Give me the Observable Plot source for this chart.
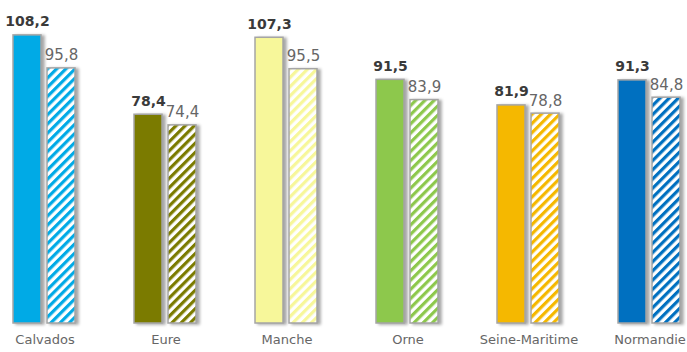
<!DOCTYPE html>
<html><head><meta charset="utf-8">
<script src="https://cdn.jsdelivr.net/npm/d3@7"></script>
<script src="https://cdn.jsdelivr.net/npm/@observablehq/plot@0.6"></script>
<style>body{margin:0;background:#fff}</style>
</head><body><div id="chart"></div>
<script>
const regions = ["Calvados", "Eure", "Manche", "Orne", "Seine-Maritime", "Normandie"];
const series = ["plein", "hachuré"];
const solidValues = [108.2, 78.4, 107.3, 91.5, 81.9, 91.3];
const hatchValues = [95.8, 74.4, 95.5, 83.9, 78.8, 84.8];
const regionColors = ["#00aae6", "#7b7b00", "#f7f79a", "#8dc84c", "#f5b800", "#0070c0"];

const rows = [];
regions.forEach((r, i) => {
  rows.push({region: r, serie: series[0], value: solidValues[i], fill: regionColors[i]});
  rows.push({region: r, serie: series[1], value: hatchValues[i], fill: `url(#hatch-${i})`});
});
const fmt = v => v.toFixed(1).replace(".", ",");

const chart = Plot.plot({
  width: 687, height: 352,
  marginTop: 0, marginBottom: 29, marginLeft: 0, marginRight: 0,
  style: {fontFamily: "DejaVu Sans", background: "#fff"},
  fx: {domain: regions, range: [11, 683], paddingInner: 0.483, paddingOuter: 0, label: null},
  x: {domain: series, paddingInner: 0.174, paddingOuter: 0, axis: null},
  y: {domain: [0, 121.3], axis: null},
  color: {type: "identity"},
  marks: [
    Plot.barY(rows, {fx: "region", x: "serie", y: "value", fill: "fill", stroke: "#a5a5a5", strokeWidth: 1.5}),
    Plot.text(rows.filter(d => d.serie === series[0]), {fx: "region", x: "serie", y: "value", text: d => fmt(d.value),
      dy: -9, lineAnchor: "bottom", fontWeight: "bold", fontSize: 14, fill: "#3a3a3a"}),
    Plot.text(rows.filter(d => d.serie === series[1]), {fx: "region", x: "serie", y: "value", text: d => fmt(d.value),
      dy: -8, lineAnchor: "bottom", fontSize: 15, fill: "#666"}),
    Plot.axisFx({anchor: "bottom", tickSize: 0, tickPadding: 11, fontSize: 13, color: "#666", label: null})
  ]
});

const svgNS = "http://www.w3.org/2000/svg";
const defs = document.createElementNS(svgNS, "defs");
regionColors.forEach((c, i) => {
  const p = document.createElementNS(svgNS, "pattern");
  p.setAttribute("id", `hatch-${i}`);
  p.setAttribute("patternUnits", "userSpaceOnUse");
  p.setAttribute("width", 6.5);
  p.setAttribute("height", 6.5);
  p.setAttribute("patternTransform", "rotate(45)");
  const bg = document.createElementNS(svgNS, "rect");
  bg.setAttribute("width", 6.5); bg.setAttribute("height", 6.5); bg.setAttribute("fill", "#fff");
  const st = document.createElementNS(svgNS, "rect");
  st.setAttribute("width", 3.2); st.setAttribute("height", 6.5); st.setAttribute("fill", c);
  p.appendChild(bg); p.appendChild(st);
  defs.appendChild(p);
});
chart.insertBefore(defs, chart.firstChild);
chart.querySelectorAll('g[aria-label="bar"] rect').forEach(r => {
  r.style.filter = "drop-shadow(3px 1px 1.5px rgba(0,0,0,0.35))";
});
document.getElementById("chart").appendChild(chart);
</script>
</body></html>
